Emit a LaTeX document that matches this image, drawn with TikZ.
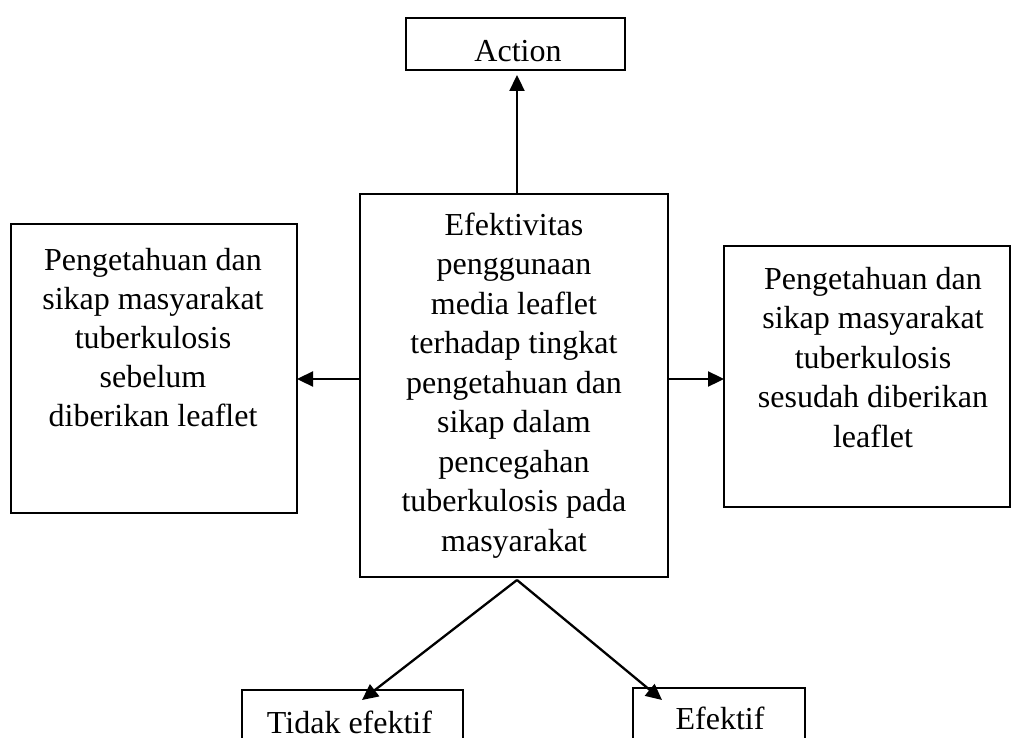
\documentclass[tikz,border=0pt]{standalone}
\usepackage{fontspec}
\setmainfont{Liberation Serif}
\usetikzlibrary{arrows.meta}
\begin{document}
\begin{tikzpicture}[x=1pt,y=-1pt,
  box/.style={draw, line width=2pt, inner sep=0pt, outer sep=0pt},
  txt/.style={font=\fontsize{32}{39.5}\selectfont, align=center, anchor=base, inner sep=0pt},
  arr/.style={line width=2.3pt, -{Triangle[length=16pt,width=15pt]}}]
\useasboundingbox (0,0) rectangle (1011,738);
% boxes
\node[box, minimum width=219pt, minimum height=52pt] (A) at (515.5,44) {};
\node[box, minimum width=308pt, minimum height=383pt] (C) at (514,385.5) {};
\node[box, minimum width=286pt, minimum height=289pt] (L) at (154,368.5) {};
\node[box, minimum width=286pt, minimum height=261pt] (R) at (867,376.5) {};
\node[box, minimum width=221pt, minimum height=80pt] (T) at (352.5,730) {};
\node[box, minimum width=172pt, minimum height=82pt] (E) at (719,729) {};
% texts (base anchor = baseline of the last line)
\node[txt] (At) at (518,62) {Action};
\node[txt] (Ct) at (514,551) {Efektivitas\\penggunaan\\media leaflet\\terhadap tingkat\\pengetahuan dan\\sikap dalam\\pencegahan\\tuberkulosis pada\\masyarakat};
\node[txt, font=\fontsize{32}{39}\selectfont] (Lt) at (153,426) {Pengetahuan dan\\sikap masyarakat\\tuberkulosis\\sebelum\\diberikan leaflet};
\node[txt] (Rt) at (873,447) {Pengetahuan dan\\sikap masyarakat\\tuberkulosis\\sesudah diberikan\\leaflet};
\node[txt] (Tt) at (349.5,733) {Tidak efektif};
\node[txt] (Et) at (720,729) {Efektif};
% helper coordinates
\coordinate (mid) at (0,379);
\coordinate (apex) at (517,580);
\coordinate (tT) at ([xshift=9.5pt,yshift=-10pt]T.north);
\coordinate (tE) at ([xshift=-57pt,yshift=-12pt]E.north);
% connectors
\draw[arr] ([xshift=3pt]C.north) -- ([xshift=1.5pt,yshift=-5pt]A.south);
\draw[arr] (C.west |- mid) -- (L.east |- mid);
\draw[arr] (C.east |- mid) -- (R.west |- mid);
\draw[arr] (apex) -- (tT);
\draw[arr] (apex) -- (tE);
\end{tikzpicture}
\end{document}
